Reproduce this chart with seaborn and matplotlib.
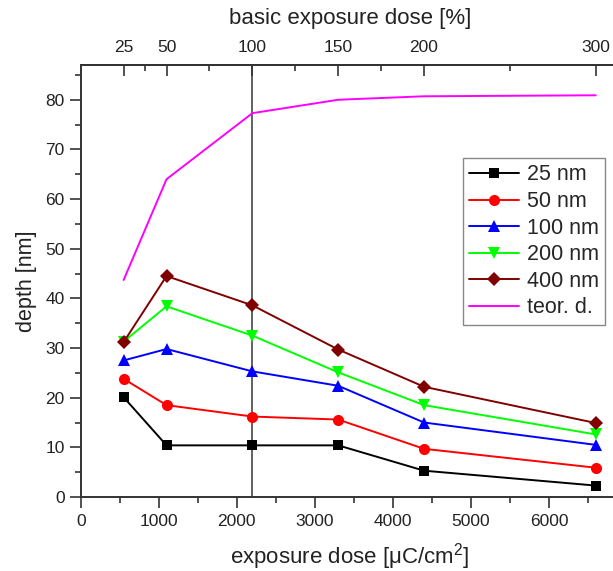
import matplotlib
matplotlib.use("Agg")
import matplotlib.pyplot as plt
import seaborn as sns
import pandas as pd
from matplotlib.ticker import MultipleLocator, FixedLocator

dose = [550, 1100, 2200, 3300, 4400, 6600]
d25 = [20.1, 10.4, 10.4, 10.4, 5.3, 2.3]
d50 = [23.8, 18.5, 16.2, 15.6, 9.7, 5.9]
d100 = [27.5, 29.8, 25.3, 22.4, 15.0, 10.5]
d200 = [31.3, 38.4, 32.5, 25.1, 18.5, 12.6]
d400 = [31.2, 44.5, 38.6, 29.7, 22.2, 14.9]
teor = [43.7, 64.0, 77.3, 80.0, 80.7, 80.9]
labels = ["25 nm", "50 nm", "100 nm", "200 nm", "400 nm", "teor. d."]
top_ticks = [25, 50, 100, 150, 200, 300]
top_minor = [37.5, 75, 125, 175, 250]
series = [d25, d50, d100, d200, d400, teor]

sns.set_theme(style="ticks")
plt.rcParams['font.family'] = ['Liberation Sans', 'DejaVu Sans']
plt.rcParams['mathtext.fontset'] = 'custom'
plt.rcParams['mathtext.rm'] = 'Liberation Sans'
plt.rcParams['mathtext.default'] = 'regular'

colors = ["#000000", "#ff0000", "#0000ff", "#00ff00", "#800000", "#ff00ff"]
markers = ["s", "o", "^", "v", "D", None]
msizes = [7, 8, 8.5, 8.5, 7, 0]

fig = plt.figure(figsize=(6.13, 5.71), dpi=100)
ax = fig.add_axes([80.7 / 613, 1 - 497 / 571, (613 - 80.7) / 613 + 0.01, (497 - 65) / 571])

df = pd.DataFrame({"dose": dose})
for lab, vals, c, m, ms in zip(labels, series, colors, markers, msizes):
    kw = dict(marker=m, markersize=ms, markeredgewidth=0) if m else {}
    sns.lineplot(x=dose, y=vals, ax=ax, color=c, linewidth=1.4, label=lab, **kw)

ax.axvline(2200, color="#555555", linewidth=1.3, zorder=0)

ax.set_xlim(0, 6900)
ax.set_ylim(0, 87)
ax.xaxis.set_major_locator(MultipleLocator(1000))
ax.xaxis.set_minor_locator(MultipleLocator(500))
ax.yaxis.set_major_locator(MultipleLocator(10))
ax.yaxis.set_minor_locator(MultipleLocator(5))
ax.tick_params(which="major", direction="out", length=8, width=1.2, labelsize=12.5, color="#333333", labelcolor="#222222")
ax.tick_params(which="minor", direction="out", length=4.5, width=1.2, color="#333333")
ax.tick_params(axis="x", pad=4)
for s in ["left", "bottom", "top"]:
    ax.spines[s].set_linewidth(1.4)
    ax.spines[s].set_color("#333333")
ax.spines["right"].set_visible(False)

sec = ax.secondary_xaxis("top", functions=(lambda x: x / 22.0, lambda p: p * 22.0))
sec.xaxis.set_major_locator(FixedLocator(top_ticks))
sec.xaxis.set_minor_locator(FixedLocator(top_minor))
sec.tick_params(which="major", direction="in", length=8, width=1.2, labelsize=12.5, color="#333333", labelcolor="#222222", pad=7)
sec.tick_params(which="minor", direction="in", length=4.5, width=1.2, color="#333333")
sec.spines["top"].set_linewidth(1.4)
sec.spines["top"].set_color("#333333")
sec.set_xlabel("basic exposure dose [%]", fontsize=16, labelpad=12, color="#222222")

ax.set_xlabel("exposure dose [μC/cm$^2$]", fontsize=16, labelpad=9, color="#222222")
ax.set_ylabel("depth [nm]", fontsize=15.5, labelpad=6, color="#222222")

leg = ax.legend(loc="upper right", bbox_to_anchor=(605 / 613, 1 - 158 / 571),
                bbox_transform=fig.transFigure, fontsize=15.5, frameon=True,
                fancybox=False, framealpha=1, edgecolor="#888888",
                handlelength=2.3, handletextpad=0.35, labelspacing=0.26,
                borderpad=0.3, borderaxespad=0)
leg.get_frame().set_linewidth(1.0)

fig.savefig("out.png", dpi=100)
